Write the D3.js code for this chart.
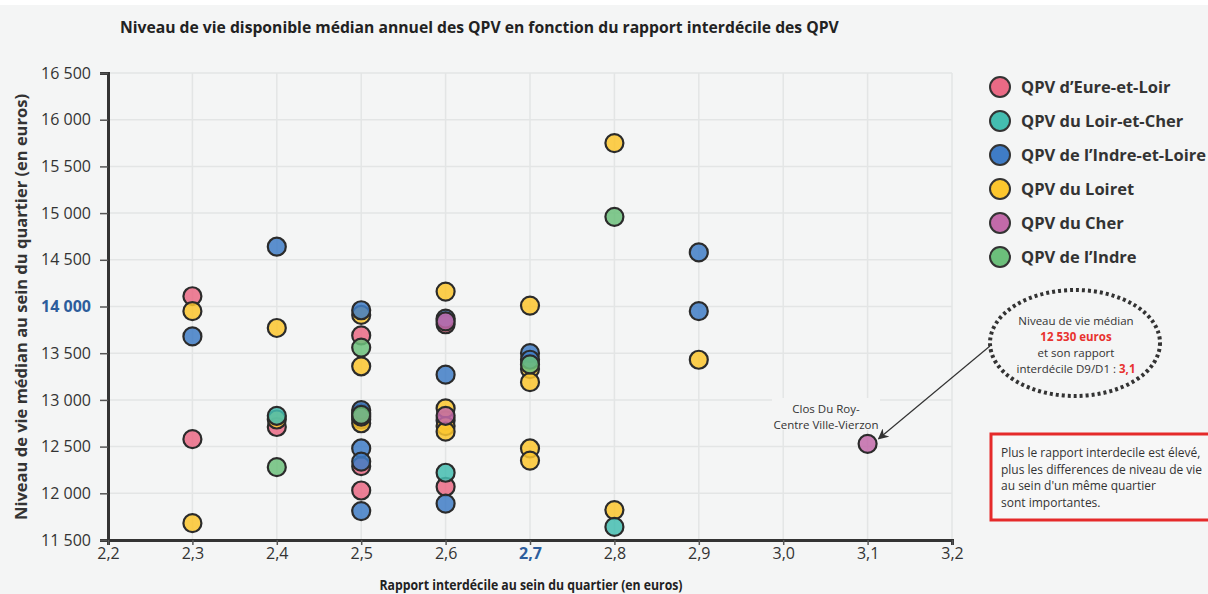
<!DOCTYPE html>
<html>
<head>
<meta charset="utf-8">
<script src="https://cdn.jsdelivr.net/npm/d3@7"></script>
<style>
  body { margin: 0; background: #fff; }
  text { font-family: "Open Sans", sans-serif; }
</style>
</head>
<body>
<svg id="chart" width="1208" height="594"></svg>
<script>
// series names + colours
let seriesNames = ["QPV d\u2019Eure-et-Loir", "QPV du Loir-et-Cher", "QPV de l\u2019Indre-et-Loire",
                   "QPV du Loiret", "QPV du Cher", "QPV de l\u2019Indre"];
let seriesColors = ["#ea6a85", "#44bdb0", "#3f7cc6", "#fcc62e", "#c26aa9", "#6cbf7b"];

// values: [rapport interdécile, niveau de vie]
let eureEtLoir = [[2.3,14110],[2.3,12580],[2.4,12710],[2.5,13690],[2.5,12790],[2.5,12290],[2.5,12030],
                  [2.6,13810],[2.6,12780],[2.6,12070]];
let loirEtCher = [[2.4,12830],[2.5,12860],[2.6,12220],[2.8,11640]];
let loiret = [[2.3,13950],[2.3,11680],[2.4,13770],[2.4,12790],[2.5,13910],[2.5,13360],[2.5,12750],
              [2.6,14160],[2.6,12910],[2.6,12720],[2.6,12660],[2.7,14010],[2.7,13330],[2.7,13190],
              [2.7,12480],[2.7,12350],[2.8,15750],[2.8,11820],[2.9,13430]];
let indreEtLoire = [[2.3,13680],[2.4,14640],[2.5,13960],[2.5,12890],[2.5,12480],[2.5,12340],[2.5,11810],
                    [2.6,13870],[2.6,13270],[2.6,11890],[2.7,13500],[2.7,13430],[2.9,14580],[2.9,13950]];
let cher = [[2.5,12820],[2.6,13840],[2.6,12830],[3.1,12530]];
let indre = [[2.4,12280],[2.5,13560],[2.5,12840],[2.7,13380],[2.8,14960]];

let xTicks = [2.2, 2.3, 2.4, 2.5, 2.6, 2.7, 2.8, 2.9, 3.0, 3.1, 3.2];
let yTicks = [11500, 12000, 12500, 13000, 13500, 14000, 14500, 15000, 15500, 16000, 16500];

// drawing order (last on top)
let layers = [
  {s: 0, pts: eureEtLoir}, {s: 3, pts: loiret}, {s: 1, pts: loirEtCher},
  {s: 2, pts: indreEtLoire}, {s: 4, pts: cher}, {s: 5, pts: indre}
];

let fr = d3.formatLocale({decimal: ",", thousands: "\u00a0", grouping: [3], currency: ["", " €"]});

let svg = d3.select("#chart");
svg.append("rect").attr("x", 0).attr("y", 5).attr("width", 1208).attr("height", 589).attr("fill", "#f4f5f5");

let x = d3.scaleLinear().domain([2.2, 3.2]).range([108, 952]);
let y = d3.scaleLinear().domain([11500, 16500]).range([540, 73]);

// grid
svg.append("g").selectAll("line").data(yTicks).join("line")
  .attr("x1", x(2.2)).attr("x2", x(3.2)).attr("y1", d => y(d)).attr("y2", d => y(d))
  .attr("stroke", "#e3e5e5").attr("stroke-width", 1.5);
svg.append("g").selectAll("line").data(xTicks).join("line")
  .attr("x1", d => x(d)).attr("x2", d => x(d)).attr("y1", y(11500)).attr("y2", y(16500))
  .attr("stroke", "#e3e5e5").attr("stroke-width", 1.5);

// axes
let yAxis = svg.append("g").attr("transform", "translate(" + x(2.2) + ",0)")
  .call(d3.axisLeft(y).tickValues(yTicks).tickSize(8).tickFormat(fr.format(",")));
let xAxis = svg.append("g").attr("transform", "translate(0," + y(11500) + ")")
  .call(d3.axisBottom(x).tickValues(xTicks).tickSize(5).tickFormat(fr.format(".1f")));

[xAxis, yAxis].forEach(a => {
  a.select(".domain").attr("stroke", "#333").attr("stroke-width", 3);
  a.selectAll(".tick line").attr("stroke", "#555").attr("stroke-width", 1.5);
  a.selectAll(".tick text").style("font-family", "'Open Sans', sans-serif").style("font-size", "16px").style("fill", "#333");
});
yAxis.selectAll(".tick text").attr("x", -17);
xAxis.selectAll(".tick text").attr("y", 8);
yAxis.selectAll(".tick text").filter(d => d === 14000).style("fill", "#2d5d9c").style("font-weight", "bold");
xAxis.selectAll(".tick text").filter(d => Math.abs(d - 2.7) < 1e-9).style("fill", "#2d5d9c").style("font-weight", "bold");

// title + axis titles
svg.append("text").attr("x", 120).attr("y", 33)
  .style("font-size", "15.7px").style("font-weight", "bold").style("fill", "#222")
  .text("Niveau de vie disponible médian annuel des QPV en fonction du rapport interdécile des QPV");
svg.append("text").attr("transform", "translate(27,307) rotate(-90)").attr("text-anchor", "middle")
  .style("font-size", "16.5px").style("font-weight", "bold").style("fill", "#333")
  .text("Niveau de vie médian au sein du quartier (en euros)");
svg.append("text").attr("x", 531).attr("y", 590).attr("text-anchor", "middle")
  .attr("textLength", 303).attr("lengthAdjust", "spacingAndGlyphs")
  .style("font-size", "14px").style("font-weight", "bold").style("fill", "#222")
  .text("Rapport interdécile au sein du quartier (en euros)");

// label for Vierzon point
let lab = svg.append("g");
lab.append("rect").attr("x", 772).attr("y", 398).attr("width", 108).attr("height", 32).attr("fill", "#f4f5f5");
lab.append("text").attr("x", 826).attr("y", 413).attr("text-anchor", "middle").style("font-size", "11.5px").style("fill", "#333").text("Clos Du Roy-");
lab.append("text").attr("x", 826).attr("y", 429).attr("text-anchor", "middle").style("font-size", "11.5px").style("fill", "#333").text("Centre Ville-Vierzon");

// points
layers.forEach(l => {
  svg.append("g").selectAll("circle").data(l.pts).join("circle")
    .attr("cx", d => x(d[0])).attr("cy", d => y(d[1])).attr("r", 9)
    .attr("fill", seriesColors[l.s]).attr("fill-opacity", 0.85)
    .attr("stroke", "#2b2b2b").attr("stroke-width", 2.2);
});

// legend
let leg = svg.append("g");
seriesNames.forEach((n, i) => {
  let ly = 87 + i * 34;
  leg.append("circle").attr("cx", 1000).attr("cy", ly).attr("r", 10)
    .attr("fill", seriesColors[i]).attr("stroke", "#333").attr("stroke-width", 2);
  leg.append("text").attr("x", 1021).attr("y", ly + 6)
    .style("font-size", "16.5px").style("font-weight", "bold").style("fill", "#333").text(n);
});

// annotation bubble
svg.append("defs").append("marker").attr("id", "arr")
  .attr("viewBox", "0 0 10 10").attr("refX", 9).attr("refY", 5)
  .attr("markerWidth", 9).attr("markerHeight", 9).attr("orient", "auto")
  .append("path").attr("d", "M0,0L10,5L0,10L3,5z").attr("fill", "#333");
svg.append("line").attr("x1", 990).attr("y1", 346).attr("x2", x(3.1) + 11).attr("y2", y(12530) - 5)
  .attr("stroke", "#333").attr("stroke-width", 1.2).attr("marker-end", "url(#arr)");
svg.append("ellipse").attr("cx", 1075).attr("cy", 343).attr("rx", 85).attr("ry", 53)
  .attr("fill", "#f4f5f5").attr("stroke", "#333").attr("stroke-width", 4).attr("stroke-dasharray", "3,3");
let ann = svg.append("text").attr("text-anchor", "middle").style("font-size", "11.5px").style("fill", "#333");
ann.append("tspan").attr("x", 1076).attr("y", 325).text("Niveau de vie médian");
ann.append("tspan").attr("x", 1076).attr("y", 341).style("fill", "#e8322f").style("font-weight", "bold").text("12 530 euros");
ann.append("tspan").attr("x", 1076).attr("y", 357).text("et son rapport");
let t4 = ann.append("tspan").attr("x", 1076).attr("y", 373);
t4.append("tspan").text("interdécile D9/D1 : ");
t4.append("tspan").style("fill", "#e8322f").style("font-weight", "bold").text("3,1");

// red note box
svg.append("rect").attr("x", 991).attr("y", 434).attr("width", 220).attr("height", 86)
  .attr("fill", "#f7f7f7").attr("stroke", "#e52a2a").attr("stroke-width", 3);
let note = ["Plus le rapport interdecile est élevé,", "plus les differences de niveau de vie",
            "au sein d'un même quartier", "sont importantes."];
svg.append("g").selectAll("text").data(note).join("text")
  .attr("x", 1001).attr("y", (d, i) => 457 + i * 16.5)
  .style("font-size", "12px").style("fill", "#333").text(d => d);
</script>
</body>
</html>
